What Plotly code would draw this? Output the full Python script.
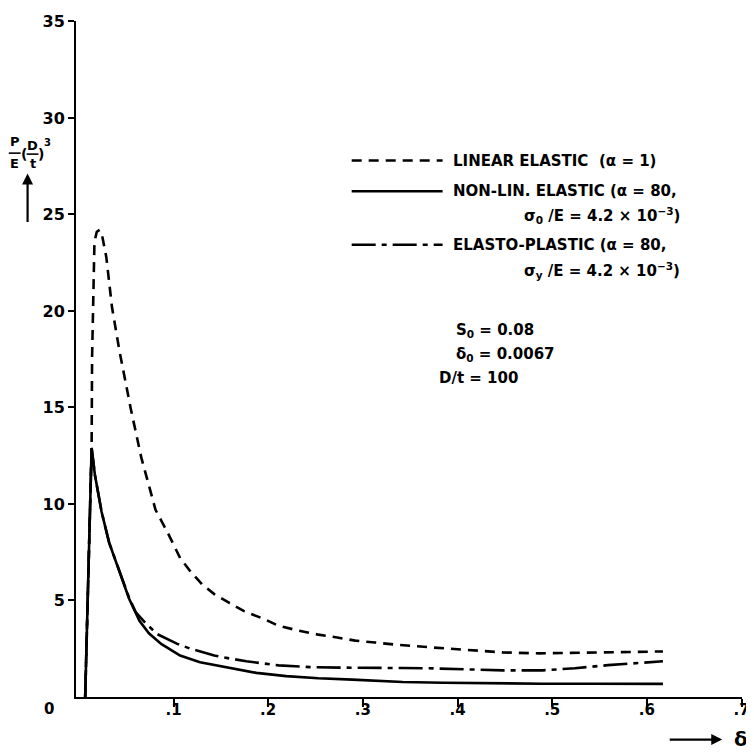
import plotly.graph_objects as go

# ---------------- data ----------------
linear_delta = [0.0067, 0.0135, 0.0140, 0.0156, 0.0165, 0.019, 0.022, 0.025, 0.029, 0.035,
                0.043, 0.055, 0.066, 0.081, 0.095, 0.107, 0.118, 0.130, 0.143, 0.159,
                0.174, 0.195, 0.211, 0.232, 0.253, 0.273, 0.292, 0.313, 0.333, 0.375,
                0.409, 0.448, 0.486, 0.524, 0.562, 0.617]
linear_P = [0.0, 12.9, 17.6, 22.8, 23.6, 24.1, 24.2, 23.8, 22.8, 20.2,
            17.9, 14.9, 12.4, 9.7, 8.4, 7.2, 6.5, 5.85, 5.33, 4.87,
            4.46, 4.05, 3.69, 3.44, 3.23, 3.08, 2.92, 2.82, 2.72, 2.56,
            2.46, 2.31, 2.26, 2.28, 2.31, 2.36]

nonlin_delta = [0.0067, 0.0135, 0.017, 0.024, 0.032, 0.043, 0.053, 0.064, 0.074, 0.087,
                0.107, 0.128, 0.159, 0.1875, 0.219, 0.253, 0.289, 0.316, 0.342, 0.385,
                0.4375, 0.49, 0.542, 0.576, 0.617]
nonlin_P = [0.0, 12.9, 11.5, 9.6, 8.0, 6.5, 5.1, 3.95, 3.3, 2.75,
            2.15, 1.8, 1.5, 1.25, 1.08, 0.97, 0.9, 0.83, 0.78, 0.74,
            0.7, 0.69, 0.69, 0.68, 0.68]

plastic_delta = [0.0067, 0.0135, 0.017, 0.024, 0.032, 0.043, 0.053, 0.060, 0.070, 0.083,
                 0.094, 0.104, 0.118, 0.128, 0.143, 0.153, 0.177, 0.211, 0.247, 0.281,
                 0.316, 0.342, 0.368, 0.403, 0.448, 0.49, 0.524, 0.559, 0.586, 0.617]
plastic_P = [0.0, 12.9, 11.5, 9.6, 8.0, 6.5, 5.15, 4.4, 3.85, 3.25,
             3.0, 2.75, 2.5, 2.35, 2.15, 2.05, 1.85, 1.64, 1.54, 1.52,
             1.49, 1.5, 1.49, 1.44, 1.38, 1.38, 1.49, 1.65, 1.74, 1.85]

x_ticks = [0.1, 0.2, 0.3, 0.4, 0.5, 0.6, 0.7]
x_ticklabels = [".1", ".2", ".3", ".4", ".5", ".6", ".7"]
y_ticks = [5, 10, 15, 20, 25, 30, 35]
y_ticklabels = ["5", "10", "15", "20", "25", "30", "35"]

legend_texts = ["LINEAR ELASTIC",
                "(α = 1)",
                "NON-LIN. ELASTIC (α = 80,",
                "σ<sub>0</sub> /E = 4.2 × 10<sup>−3</sup>)",
                "ELASTO-PLASTIC (α = 80,",
                "σ<sub>y</sub> /E = 4.2 × 10<sup>−3</sup>)"]
param_texts = ["S<sub>0</sub> = 0.08", "δ<sub>0</sub> = 0.0067", "D/t = 100"]

# ---------------- figure ----------------
OFF = 8                      # page body margin of the html page
W, H = 754 - OFF, 754 - OFF  # figure size
L, R, T, B = 76 - OFF, 4, 14 - OFF, 57
FONT = "DejaVu Sans"
DASH = "10px,7px"
DASHDOT = "24px,6px,5px,6px"
PW, PH = W - L - R, H - T - B


def px(x):  # page pixel -> paper
    return (x - OFF - L) / PW


def py(y):
    return (H - B - (y - OFF)) / PH


fig = go.Figure()
fig.add_trace(go.Scatter(x=linear_delta, y=linear_P, mode="lines",
                         line=dict(color="black", width=2.6, dash=DASH)))
fig.add_trace(go.Scatter(x=plastic_delta, y=plastic_P, mode="lines",
                         line=dict(color="black", width=2.6, dash=DASHDOT)))
fig.add_trace(go.Scatter(x=nonlin_delta, y=nonlin_P, mode="lines",
                         line=dict(color="black", width=2.6)))

fig.update_layout(
    width=W, height=H,
    margin=dict(l=L, r=R, t=T, b=B, pad=0),
    paper_bgcolor="white", plot_bgcolor="white",
    showlegend=False,
    font=dict(family=FONT, color="black"),
)
fig.update_xaxes(range=[-0.003, 0.7005], showgrid=False, zeroline=False,
                 showline=True, linecolor="black", linewidth=2,
                 tickvals=x_ticks, ticktext=x_ticklabels,
                 ticks="outside", ticklen=8, tickwidth=2, tickcolor="black",
                 ticklabelstandoff=-10, ticklabeloverflow="allow",
                 tickfont=dict(family=FONT, size=15, weight="bold"))
fig.update_yaxes(range=[0, 35.02], showgrid=False, zeroline=False,
                 showline=True, linecolor="black", linewidth=2,
                 tickvals=y_ticks, ticktext=y_ticklabels,
                 ticks="outside", ticklen=6, tickwidth=1.5, tickcolor="black",
                 ticklabeloverflow="allow",
                 tickfont=dict(family=FONT, size=16, weight="bold"))

ann = []
shapes = []
bold = dict(family=FONT, size=15, weight="bold", color="black")

# legend samples
for y, dash in [(155, DASH), (186, "solid"), (240, DASHDOT)]:
    shapes.append(dict(type="line", xref="paper", yref="paper",
                       x0=px(355), x1=px(447), y0=py(y), y1=py(y),
                       line=dict(color="black", width=2.4, dash=dash)))
# legend texts
for (x, y), t in zip([(455, 155), (603, 155), (455, 186), (527, 211), (455, 240), (527, 266)],
                     legend_texts):
    ann.append(dict(xref="paper", yref="paper", x=px(x), y=py(y), text=t,
                    showarrow=False, xanchor="left", yanchor="middle", font=bold))
# parameters
for (x, y), t in zip([(459, 327), (459, 351), (441, 375)], param_texts):
    ann.append(dict(xref="paper", yref="paper", x=px(x), y=py(y), text=t,
                    showarrow=False, xanchor="left", yanchor="middle", font=bold))

# origin label
ann.append(dict(xref="paper", yref="paper", x=px(49), y=py(709), text="0",
                showarrow=False, xanchor="center", yanchor="middle",
                font=dict(family=FONT, size=15, weight="bold", color="black")))

# y-axis label  P/E (D/t)^3
small = dict(family=FONT, size=13, weight="bold", color="black")
for (x, y, t) in [(14, 136, "P"), (14, 158, "E"), (32, 140, "D"), (32, 158, "t"),
                  (23, 148, "("), (41, 148, ")"), (47, 137, "3")]:
    f = dict(small)
    if t == "3":
        f["size"] = 10
    if t in "()":
        f["size"] = 14
    ann.append(dict(xref="paper", yref="paper", x=px(x), y=py(y), text=t,
                    showarrow=False, xanchor="center", yanchor="middle", font=f))
for (x0, x1, y) in [(8, 20, 147.5), (26, 38, 148.5)]:
    shapes.append(dict(type="line", xref="paper", yref="paper",
                       x0=px(x0), x1=px(x1), y0=py(y), y1=py(y),
                       line=dict(color="black", width=1.6)))
# up arrow
ann.append(dict(xref="paper", yref="paper", x=px(27), y=py(168), text="",
                showarrow=True, ax=0, ay=50, arrowhead=2, arrowsize=1,
                arrowwidth=2.2, arrowcolor="black"))
# right arrow + delta
ann.append(dict(xref="paper", yref="paper", x=px(730), y=py(740), text="",
                showarrow=True, ax=-54, ay=0, arrowhead=2, arrowsize=1,
                arrowwidth=2.2, arrowcolor="black"))
ann.append(dict(xref="paper", yref="paper", x=px(740), y=py(739), text="δ",
                showarrow=False, xanchor="left", yanchor="middle",
                font=dict(family=FONT, size=20, weight="bold", color="black")))

fig.update_layout(annotations=ann, shapes=shapes)
fig.write_html("out.html")
